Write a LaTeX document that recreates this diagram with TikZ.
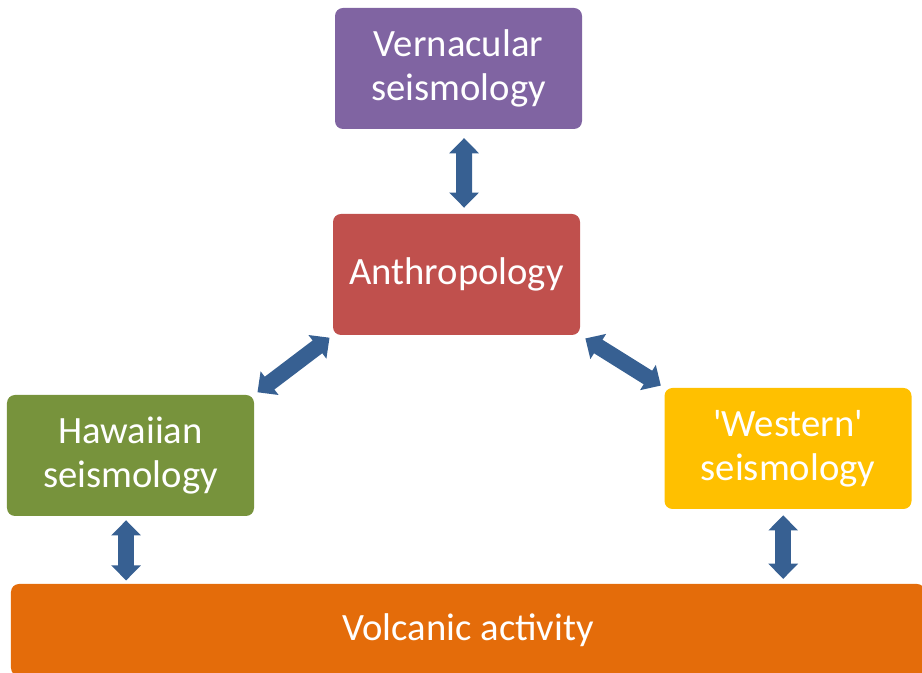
\documentclass[tikz,border=0pt]{standalone}
\usepackage{fontspec}
\setmainfont{Carlito}
\usetikzlibrary{arrows.meta,positioning,calc}
\definecolor{vernC}{RGB}{128,100,162}
\definecolor{anthC}{RGB}{192,80,77}
\definecolor{hawC}{RGB}{119,147,60}
\definecolor{westC}{RGB}{255,192,0}
\definecolor{volcC}{RGB}{228,108,10}
\definecolor{arrowC}{RGB}{55,96,146}
\tikzset{
  fieldbox/.style={rectangle, rounded corners=0.2cm, fill=#1, draw=none,
                   minimum width=6.175cm, minimum height=3.025cm,
                   align=center, text=white, font=\fontsize{27.5}{31}\selectfont},
  biarrow/.style={draw=arrowC, line width=0.4cm, >={Triangle[width=0.72cm,length=0.38cm]}, <->},
}
\begin{document}
\begin{tikzpicture}
  \useasboundingbox (0,0) rectangle (23.05,16.825);
  \clip (0,0) rectangle (23.05,16.825);

  % boxes
  \node[fieldbox=vernC] (vern) at (11.4625,15.1125) {Vernacular\\seismology};
  \node[fieldbox=anthC] (anth) at (11.4125,9.9625) {Anthropology};
  \node[fieldbox=hawC]  (haw)  at (3.2625,5.4375)  {Hawaiian\\seismology};
  \node[fieldbox=westC] (west) at (19.7,5.6125)    {\textquotesingle Western\textquotesingle\\seismology};
  \node[fieldbox=volcC, minimum width=22.85cm, minimum height=2.3cm] (volc)
       at (11.7,1.075) {Volcanic activity};

  % double arrows
  \draw[biarrow, shorten <=0.22cm, shorten >=0.15cm]
       ([xshift=0.14cm]vern.south) -- ([xshift=0.19cm]anth.north);
  \draw[biarrow, shorten <=0.1cm, shorten >=0.1cm] (haw.north east) -- (anth.south west);
  \draw[biarrow, shorten <=0.15cm, shorten >=0.1cm] (anth.south east) -- (west.north west);
  \draw[biarrow, shorten <=0.1cm, shorten >=0.08cm]
       ([xshift=-0.11cm]haw.south) -- ([xshift=-0.11cm]haw.south |- volc.north);
  \draw[biarrow, shorten <=0.15cm, shorten >=0.12cm]
       ([xshift=-0.12cm]west.south) -- ([xshift=-0.12cm]west.south |- volc.north);
\end{tikzpicture}
\end{document}
